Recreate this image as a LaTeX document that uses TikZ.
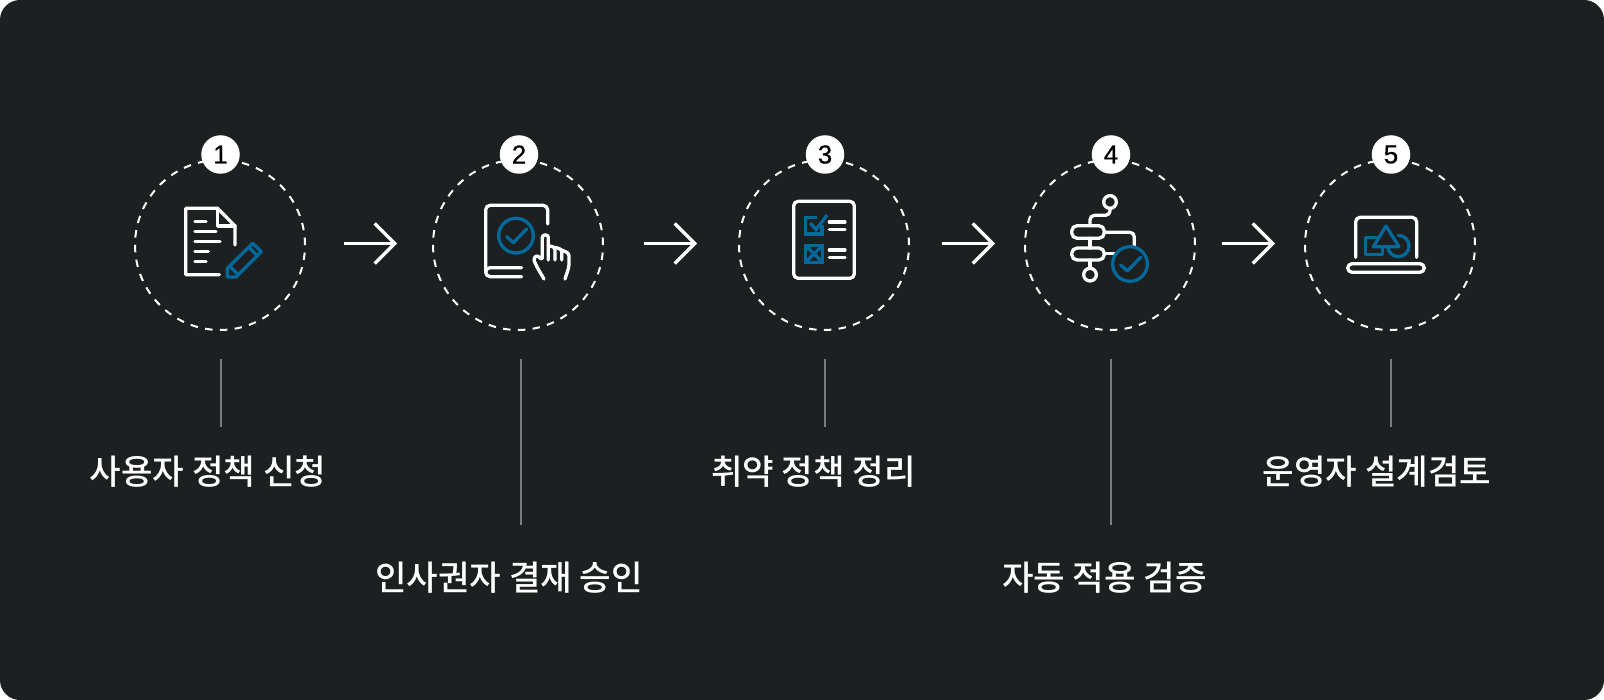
\documentclass[tikz,border=0pt]{standalone}
\usepackage{fontspec}
\usetikzlibrary{arrows.meta}
\setmainfont{Noto Sans CJK KR Medium}
\newfontfamily\digitfont[FakeBold=0.6]{Liberation Sans}
\definecolor{panel}{HTML}{1C2021}
\definecolor{accent}{HTML}{04699A}
\definecolor{stemgray}{HTML}{7A7C7D}
\tikzset{
  ring/.style={circle,draw=white,line width=2pt,dash pattern=on 7.5pt off 7.33pt,minimum size=170pt,inner sep=0pt,outer sep=0pt},
  badge/.style={circle,fill=white,text=black,minimum size=38.5pt,inner sep=0pt,font=\digitfont\fontsize{26}{28}\selectfont},
  flow/.style={draw=white,line width=3.2pt,-{Straight Barb[length=20pt,width=40pt,line width=3.2pt]}},
  stem/.style={draw=stemgray,line width=1.5pt},
  caption/.style={text=white,inner sep=0pt,font=\fontsize{34.3}{40}\selectfont},
  wline/.style={draw=white,line width=3.3pt,line cap=round,line join=round,rounded corners=4.5pt},
  bline/.style={draw=accent,line width=3.3pt,line cap=round,line join=round},
  icon/.style={x=0.33333pt,y=-0.33333pt}
}
\begin{document}
\begin{tikzpicture}[x=1pt,y=-1pt]
\useasboundingbox (0,0) rectangle (1604,700);
\fill[white] (0,0) rectangle (1604,700);
\fill[panel,rounded corners=20pt] (0,0) rectangle (1604,700);
% rings
\node[ring] (c1) at (220,245) {};
\node[ring] (c2) at (518,245) {};
\node[ring] (c3) at (824,245) {};
\node[ring] (c4) at (1110,245) {};
\node[ring] (c5) at (1390,245) {};
% badges
\node[badge] (b1) at (220.5,154.5) {1};
\node[badge] (b2) at (519,154.5) {2};
\node[badge] (b3) at (825,154.5) {3};
\node[badge] (b4) at (1111,154.5) {4};
\node[badge] (b5) at (1391,154.5) {5};
% arrows
\coordinate (a1s) at (344,243.5); \coordinate (a1e) at (397,243.5);
\coordinate (a2s) at (644,243.5); \coordinate (a2e) at (697,243.5);
\coordinate (a3s) at (942,243.5); \coordinate (a3e) at (995,243.5);
\coordinate (a4s) at (1222,243.5); \coordinate (a4e) at (1275,243.5);
\draw[flow] (a1s) -- (a1e);
\draw[flow] (a2s) -- (a2e);
\draw[flow] (a3s) -- (a3e);
\draw[flow] (a4s) -- (a4e);
% labels
\node[caption] (l1) at (208,472) {사용자 정책 신청};
\node[caption] (l2) at (509,578) {인사권자 결재 승인};
\node[caption] (l3) at (813.5,472) {취약 정책 정리};
\node[caption] (l4) at (1104.5,578) {자동 적용 검증};
\node[caption] (l5) at (1377,472) {운영자 설계검토};
% stems
\coordinate (s1a) at (221,359); \coordinate (s1b) at (221,427);
\coordinate (s2a) at (521,359); \coordinate (s2b) at (521,525);
\coordinate (s3a) at (825,359); \coordinate (s3b) at (825,427);
\coordinate (s4a) at (1111,359); \coordinate (s4b) at (1111,525);
\coordinate (s5a) at (1391,359); \coordinate (s5b) at (1391,427);
\draw[stem] (s1a) -- (s1b);
\draw[stem] (s2a) -- (s2b);
\draw[stem] (s3a) -- (s3b);
\draw[stem] (s4a) -- (s4b);
\draw[stem] (s5a) -- (s5b);
% icon 1
\begin{scope}[shift={(120,125)},icon]
\draw[wline,rounded corners=0pt] (298,449) -- (197,449) -- (197,250) -- (293,250) -- (345,303) -- (345,360);
\draw[wline,rounded corners=0pt] (293,250) -- (293,303) -- (345,303);
\foreach \a/\b in {290/258,320/288,350/300,380/265,410/258}
  \draw[wline] (225,\a) -- (\b,\a);
\draw[bline] (322,430) -- (398,355) -- (424,380) -- (348,456) -- (322,456) -- cycle;
\draw[bline] (329,423) -- (354,449);
\draw[bline] (386,367) -- (412,392);
\end{scope}
% icon 2
\begin{scope}[shift={(420,125)},icon]
\draw[wline] (383,297) -- (383,241) -- (197,241) -- (197,455) -- (305,455);
\draw[wline] (197,440) -- (197,428) -- (305,428);
\draw[bline] (288,332) circle[radius=52];
\draw[bline] (260,335) -- (280,353) -- (320,312);
\draw[wline,rounded corners=2.5pt] (372,462) -- (352,428) -- (340,402) -- (350,390) -- (367,405) -- (367,330) -- (385,330) -- (385,405);
\draw[wline,rounded corners=2.5pt] (385,362) -- (405,367) -- (405,405);
\draw[wline,rounded corners=2.5pt] (405,367) -- (425,373) -- (425,405);
\draw[wline,rounded corners=2.5pt] (425,375) -- (447,385) -- (447,425) -- (435,462);
\end{scope}
% icon 3
\begin{scope}[shift={(730,125)},icon]
\draw[wline] (191,229) rectangle (373,460);
\foreach \a in {291,314,375,398}
  \draw[wline] (298,\a) -- (345,\a);
\draw[bline,line cap=butt,line join=miter] (262,278) -- (226,278) -- (226,327) -- (276,327) -- (276,300);
\draw[bline,line cap=butt,line join=miter] (241,294) -- (258,314) -- (291,270);
\draw[bline,line cap=butt,line join=miter] (226,361) rectangle (278,412);
\draw[bline,line cap=butt] (226,361) -- (278,412);
\draw[bline,line cap=butt] (278,361) -- (226,412);
\end{scope}
% icon 4
\begin{scope}[shift={(1015,125)},icon]
\draw[wline] (285,231) circle[radius=19];
\draw[wline] (285,250) -- (285,271) -- (225,271) -- (225,302);
\draw[wline,rounded corners=5.5pt] (170,302) rectangle (268,340);
\draw[wline,rounded corners=5.5pt] (170,369) rectangle (268,405);
\draw[wline] (225,340) -- (225,369);
\draw[wline] (225,405) -- (225,430);
\draw[wline] (225,449) circle[radius=19];
\draw[wline] (268,322) -- (358,322) -- (358,365);
\draw[wline] (268,386) -- (300,386);
\draw[bline] (345,417) circle[radius=52];
\draw[bline] (317,420) -- (337,438) -- (377,397);
\end{scope}
% icon 5
\begin{scope}[shift={(1290,125)},icon]
\draw[wline] (197,397) -- (197,277) -- (380,277) -- (380,397);
\draw[wline] (173,416) -- (403,416) -- (403,442) -- (173,442) -- cycle;
\draw[bline] (288,303) -- (327,365) -- (250,365) -- cycle;
\draw[bline] (262,338) -- (226,338) -- (226,388) -- (278,388) -- (278,366);
\draw[bline] (325,331) arc[start angle=-90,end angle=180,radius=32];
\end{scope}
\end{tikzpicture}
\end{document}
